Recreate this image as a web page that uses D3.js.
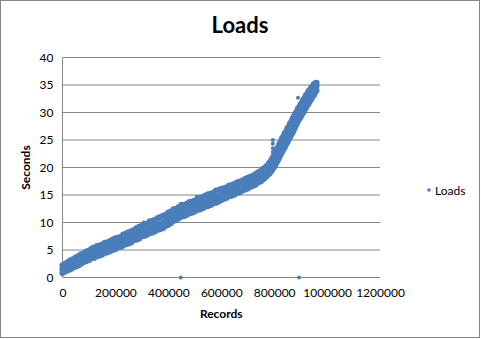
<!DOCTYPE html>
<html>
<head>
<meta charset="utf-8">
<script src="https://cdn.jsdelivr.net/npm/d3@7"></script>
<style>
  body { margin: 0; background: #fff; }
  svg { display: block; font-family: Lato, "Open Sans", sans-serif; }
</style>
</head>
<body>
<svg id="chart" width="481" height="339"></svg>
<script>
// records loaded vs. seconds (band low / middle / high)
const records = [
  0, 10000, 20000, 30000, 40000, 50000, 60000, 70000, 80000, 90000,
  100000, 110000, 120000, 130000, 140000, 150000, 160000, 170000, 180000, 190000,
  200000, 210000, 220000, 230000, 240000, 250000, 260000, 270000, 280000, 290000,
  300000, 310000, 320000, 330000, 340000, 350000, 360000, 370000, 380000, 390000,
  400000, 410000, 420000, 430000, 440000, 450000, 460000, 470000, 480000, 490000,
  500000, 510000, 520000, 530000, 540000, 550000, 560000, 570000, 580000, 590000,
  600000, 610000, 620000, 630000, 640000, 650000, 660000, 670000, 680000, 690000,
  700000, 710000, 720000, 730000, 740000, 750000, 760000, 770000,
  780000, 785000, 790000, 795000, 800000, 805000, 810000, 815000, 820000, 825000,
  830000, 835000, 840000, 845000, 850000, 855000, 860000, 865000, 870000, 875000,
  880000, 885000, 890000, 895000, 900000, 905000, 910000, 915000, 920000, 925000,
  930000, 935000, 940000, 945000, 950000, 955000, 960000
];
const secondsLow = [
  0.8, 1.1, 1.3, 1.5, 1.8, 2.0, 2.2, 2.5, 2.8, 3.0,
  3.2, 3.5, 3.6, 3.9, 4.0, 4.2, 4.5, 4.6, 4.8, 5.0,
  5.2, 5.5, 5.6, 5.8, 6.1, 6.2, 6.4, 6.8, 6.9, 7.1,
  7.5, 7.6, 7.8, 8.1, 8.2, 8.4, 8.7, 8.8, 9.0, 9.4,
  9.6, 9.9, 10.3, 10.5, 10.8, 11.1, 11.2, 11.4, 11.7, 11.8,
  12.0, 12.3, 12.4, 12.6, 12.9, 13.0, 13.2, 13.5, 13.6, 13.8,
  14.1, 14.3, 14.5, 14.8, 14.9, 15.1, 15.4, 15.5, 15.8, 16.0,
  16.2, 16.5, 16.7, 16.9, 17.3, 17.5, 17.9, 18.3,
  18.8, 19.1, 19.4, 19.8, 20.1, 20.5, 21.0, 21.4, 21.9, 22.4,
  22.8, 23.3, 23.7, 24.2, 24.6, 25.1, 25.5, 26.0, 26.4, 26.9,
  27.4, 27.9, 28.4, 28.8, 29.2, 29.7, 30.0, 30.5, 30.8, 31.3,
  31.6, 32.1, 32.4, 32.9, 33.2, 33.7, 34.0
];
const secondsMid = [
  1.5, 1.7, 2.0, 2.2, 2.5, 2.7, 3.0, 3.3, 3.6, 3.9,
  4.1, 4.3, 4.5, 4.7, 4.9, 5.1, 5.3, 5.5, 5.7, 5.9,
  6.1, 6.3, 6.5, 6.7, 7.0, 7.2, 7.4, 7.7, 7.9, 8.1,
  8.4, 8.6, 8.8, 9.0, 9.2, 9.4, 9.6, 9.8, 10.0, 10.3,
  10.6, 10.9, 11.2, 11.5, 11.8, 12.0, 12.2, 12.4, 12.6, 12.8,
  13.0, 13.2, 13.4, 13.6, 13.8, 14.0, 14.2, 14.4, 14.6, 14.8,
  15.0, 15.2, 15.4, 15.6, 15.8, 16.0, 16.2, 16.4, 16.7, 16.9,
  17.1, 17.3, 17.6, 17.8, 18.1, 18.4, 18.8, 19.2,
  19.7, 20.0, 20.3, 20.7, 21.1, 21.5, 22.0, 22.5, 23.0, 23.5,
  24.0, 24.4, 24.9, 25.3, 25.8, 26.2, 26.7, 27.1, 27.6, 28.1,
  28.6, 29.0, 29.5, 29.9, 30.3, 30.7, 31.1, 31.5, 31.9, 32.3,
  32.7, 33.0, 33.4, 33.8, 34.1, 34.5, 34.8
];
const secondsHigh = [
  2.2, 2.5, 2.8, 3.1, 3.3, 3.6, 3.9, 4.2, 4.4, 4.7,
  4.9, 5.2, 5.4, 5.7, 5.8, 6.0, 6.3, 6.4, 6.6, 6.9,
  7.1, 7.2, 7.4, 7.8, 8.0, 8.2, 8.4, 8.6, 9.0, 9.2,
  9.4, 9.6, 9.8, 10.2, 10.3, 10.5, 10.8, 11.0, 11.2, 11.4,
  11.8, 12.0, 12.4, 12.5, 12.8, 13.2, 13.2, 13.4, 13.7, 13.8,
  14.0, 14.2, 14.5, 14.6, 14.9, 15.1, 15.2, 15.4, 15.8, 15.9,
  16.1, 16.2, 16.4, 16.7, 16.8, 17.0, 17.3, 17.4, 17.6, 17.9,
  18.1, 18.3, 18.5, 18.8, 19.1, 19.4, 19.8, 20.2,
  20.7, 21.0, 21.4, 21.8, 22.3, 22.7, 23.3, 23.7, 24.3, 24.7,
  25.3, 25.6, 26.2, 26.5, 27.1, 27.4, 28.0, 28.3, 28.9, 29.3,
  29.8, 30.1, 30.7, 31.0, 31.5, 31.8, 32.3, 32.6, 33.1, 33.4,
  33.9, 34.1, 34.5, 34.7, 35.1, 35.3, 35.4
];
// stray points away from the band
const outlierRecords = [114000, 307000, 507000, 447000, 894000, 890000, 795000, 795000, 795000, 795000];
const outlierSeconds = [5.6, 10.0, 14.7, 0, 0, 32.7, 22.8, 23.5, 24.3, 25.0];

const xTicks = [0, 200000, 400000, 600000, 800000, 1000000, 1200000];
const yTicks = [0, 5, 10, 15, 20, 25, 30, 35, 40];

const blue = "#4a7ebb";
const gridGray = "#868686";

const svg = d3.select("#chart");

svg.append("rect")
  .attr("x", 0.5).attr("y", 0.5)
  .attr("width", 479).attr("height", 337)
  .attr("fill", "#fff").attr("stroke", gridGray);

const x = d3.scaleLinear().domain([0, 1200000]).range([62.5, 380]);
const y = d3.scaleLinear().domain([0, 40]).range([277.5, 57.5]);

// gridlines
svg.append("g").selectAll("line")
  .data(yTicks)
  .join("line")
  .attr("x1", x(0)).attr("x2", x(1200000))
  .attr("y1", d => y(d)).attr("y2", d => y(d))
  .attr("stroke", gridGray);

svg.append("line")
  .attr("x1", x(0)).attr("x2", x(0))
  .attr("y1", y(0)).attr("y2", y(40))
  .attr("stroke", gridGray);

// axes (labels only, Excel style)
const yAxis = svg.append("g")
  .attr("transform", `translate(${x(0)},0)`)
  .call(d3.axisLeft(y).tickValues(yTicks).tickSize(0).tickPadding(9).tickFormat(d3.format("d")));
yAxis.select(".domain").remove();

const xAxis = svg.append("g")
  .attr("transform", `translate(0,${y(0)})`)
  .call(d3.axisBottom(x).tickValues(xTicks).tickSize(0).tickPadding(11).tickFormat(d3.format("d")));
xAxis.select(".domain").remove();

svg.selectAll(".tick text")
  .attr("font-family", "Lato, sans-serif")
  .attr("font-size", 12)
  .attr("fill", "#000");

// points
const band = [];
records.forEach((r, i) => {
  band.push([r, secondsLow[i]]);
  band.push([r, secondsMid[i]]);
  band.push([r, secondsHigh[i]]);
});
svg.append("g").selectAll("circle")
  .data(band)
  .join("circle")
  .attr("cx", d => x(d[0]))
  .attr("cy", d => y(d[1]))
  .attr("r", 3.1)
  .attr("fill", blue);

svg.append("g").selectAll("circle")
  .data(outlierRecords.map((r, i) => [r, outlierSeconds[i]]))
  .join("circle")
  .attr("cx", d => x(d[0]))
  .attr("cy", d => y(d[1]))
  .attr("r", 2)
  .attr("fill", blue);

// titles
svg.append("text")
  .attr("x", 240).attr("y", 33)
  .attr("text-anchor", "middle")
  .attr("font-size", 22).attr("font-weight", "bold")
  .text("Loads");

svg.append("text")
  .attr("x", (x(0) + x(1200000)) / 2).attr("y", 318)
  .attr("text-anchor", "middle")
  .attr("font-size", 12).attr("font-weight", "bold")
  .text("Records");

svg.append("text")
  .attr("transform", `translate(30,${(y(0) + y(40)) / 2}) rotate(-90)`)
  .attr("text-anchor", "middle")
  .attr("font-size", 12).attr("font-weight", "bold")
  .text("Seconds");

// legend
svg.append("circle")
  .attr("cx", 429).attr("cy", 190)
  .attr("r", 1.8).attr("fill", blue);
svg.append("text")
  .attr("x", 435).attr("y", 194.5)
  .attr("font-size", 12)
  .text("Loads");
</script>
</body>
</html>
